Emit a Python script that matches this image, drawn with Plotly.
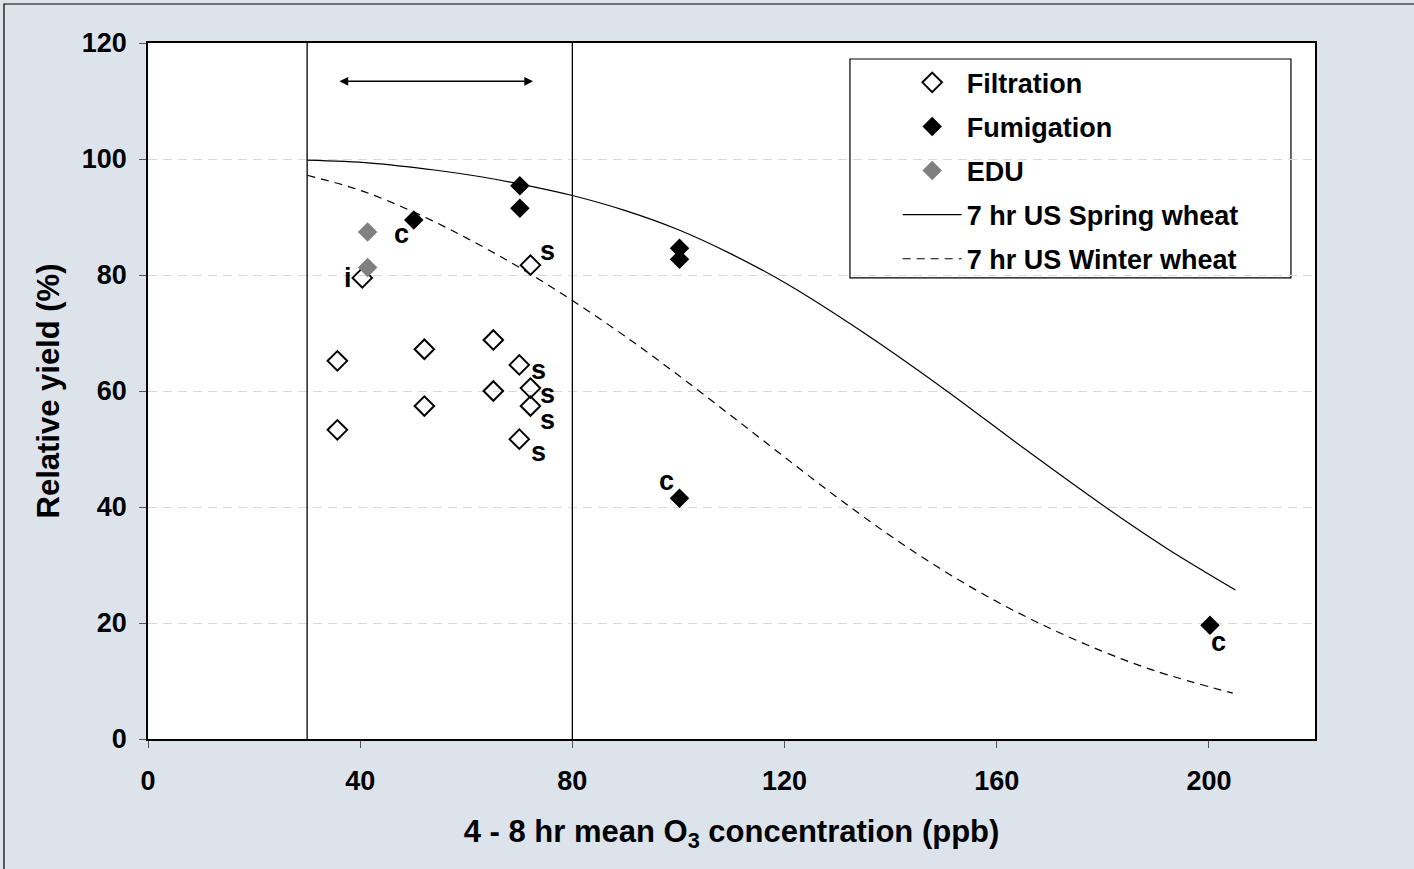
import plotly.graph_objects as go

FONT = "Liberation Sans, Arial, sans-serif"

# Relative yield (%) against 4-8 hr mean O3 concentration (ppb)
filt_x = [35.7, 35.7, 40.4, 52.1, 52.1, 65.1, 65.1, 70.0, 72.1, 72.1, 72.1, 70.0]
filt_y = [65.2, 53.3, 79.5, 67.2, 57.4, 68.8, 60.0, 64.5, 81.7, 60.5, 57.4, 51.7]
filt_lab = ["", "", "i", "", "", "", "", "s", "s", "s", "s", "s"]

fum_x = [50.1, 70.1, 70.1, 100.2, 100.2, 100.2, 200.2]
fum_y = [89.5, 95.4, 91.5, 84.6, 82.7, 41.5, 19.6]
fum_lab = ["c", "", "", "", "", "c", "c"]

edu_x = [41.4, 41.4]
edu_y = [87.4, 81.3]

# Dose-response curves (7 hr mean)
spring_x = [30, 42, 54, 63, 72.7, 80, 90, 100, 110, 120, 135, 150, 165, 180, 192, 205]
spring_y = [99.8, 99.3, 98.1, 96.9, 95.2, 93.7, 91.1, 87.8, 83.6, 78.7, 70.0, 60.4, 50.2, 40.3, 32.9, 25.7]

winter_x = [30, 40, 50, 60, 70, 80, 90, 100, 110, 120, 130, 140, 150, 160, 170, 180, 190, 204.5]
winter_y = [97.2, 94.6, 90.9, 86.4, 81.3, 75.6, 69.4, 62.7, 55.7, 48.6, 41.6, 35.0, 29.0, 23.7, 19.1, 15.1, 11.7, 7.9]

# Concentration range bounds and the range arrow
range_edges = [30, 80]
arrow_x = [35.8, 72.6]
arrow_y = 113.4

x_ticks = [0, 40, 80, 120, 160, 200]
y_ticks = [0, 20, 40, 60, 80, 100, 120]

# pixel offsets (dx right, dy down) of the point letters from their markers
filt_shift = {2: (-14, -2), 7: (19, 6), 8: (17, -13), 9: (17, 7), 10: (17, 15), 11: (19, 14)}
fum_shift = {0: (-12, 15), 5: (-13, -16), 6: (9, 18)}

fig = go.Figure()

fig.add_trace(go.Scatter(
    x=spring_x, y=spring_y, mode="lines", name="7 hr US Spring wheat",
    line=dict(color="black", width=1.2, shape="spline"),
    legendrank=4, legendgroup="g4"))
fig.add_trace(go.Scatter(
    x=winter_x, y=winter_y, mode="lines", name="7 hr US Winter wheat",
    line=dict(color="black", width=1.2, shape="spline", dash="8px,6px"),
    legendrank=5, legendgroup="g5"))

fig.add_trace(go.Scatter(
    x=filt_x, y=filt_y, mode="markers", name="Filtration",
    marker=dict(symbol="diamond-open", size=15, color="black", line=dict(width=2, color="black")),
    legendrank=1, legendgroup="g1"))
fig.add_trace(go.Scatter(
    x=edu_x, y=edu_y, mode="markers", name="EDU",
    marker=dict(symbol="diamond", size=15, color="#808080", line=dict(width=0)),
    legendrank=3, legendgroup="g3"))
fig.add_trace(go.Scatter(
    x=fum_x, y=fum_y, mode="markers", name="Fumigation",
    marker=dict(symbol="diamond", size=15, color="black", line=dict(width=0)),
    legendrank=2, legendgroup="g2"))

for x in range_edges:
    fig.add_shape(type="line", xref="x", yref="paper", x0=x, x1=x, y0=0, y1=1,
                  line=dict(color="black", width=1.3))

fig.add_annotation(x=arrow_x[1], y=arrow_y, ax=arrow_x[0], ay=arrow_y,
                   xref="x", yref="y", axref="x", ayref="y", text="",
                   showarrow=True, arrowhead=2, startarrowhead=2, arrowside="end+start",
                   arrowsize=1.1, startarrowsize=1.1, arrowwidth=1.6, arrowcolor="black",
                   standoff=0, startstandoff=0)

lab_font = dict(family=FONT, size=27, color="black", weight="bold")


def add_labels(xs, ys, labs, shifts):
    for i, (x, y, t) in enumerate(zip(xs, ys, labs)):
        if not t:
            continue
        dx, dy = shifts.get(i, (0, 0))
        fig.add_annotation(x=x, y=y, xref="x", yref="y", text=t, showarrow=False,
                           xshift=dx, yshift=-dy + (-2 if t == "i" else 1), font=lab_font)


add_labels(filt_x, filt_y, filt_lab, filt_shift)
add_labels(fum_x, fum_y, fum_lab, fum_shift)

# legend frame
fig.add_shape(type="rect", xref="paper", yref="paper",
              x0=0.6015, x1=0.9794, y0=0.6624, y1=0.977,
              line=dict(color="black", width=1.2), fillcolor="white", layer="below")

# outer chart border
fig.add_shape(type="rect", xref="paper", yref="paper",
              x0=-0.1234, x1=1.2, y0=-0.3, y1=1.056,
              line=dict(color="black", width=1.2), fillcolor="rgba(0,0,0,0)")

fig.update_layout(
    width=1414, height=869,
    margin=dict(l=148, r=99, t=43, b=130),
    paper_bgcolor="#DCE3EB", plot_bgcolor="white",
    font=dict(family=FONT, size=27, color="black", weight="bold"),
    showlegend=True,
    legend=dict(x=0.6424, y=0.978, xanchor="left", yanchor="top",
                bgcolor="rgba(0,0,0,0)", borderwidth=0, itemwidth=59,
                font=dict(family=FONT, size=27, color="black", weight="bold"),
                tracegroupgap=6),
    xaxis=dict(range=[0, 220], tickvals=x_ticks, ticks="outside", ticklen=7,
               tickcolor="#555", tickwidth=1, showline=True, mirror=True,
               linecolor="black", linewidth=1.6, showgrid=False, zeroline=False,
               ticklabelstandoff=10,
               title=dict(text="4 - 8 hr mean O<sub>3</sub> concentration (ppb)",
                          font=dict(family=FONT, size=31, color="black", weight="bold"),
                          standoff=25)),
    yaxis=dict(range=[0, 120], tickvals=y_ticks, ticks="outside", ticklen=7,
               tickcolor="#555", tickwidth=1, showline=True, mirror=True,
               linecolor="black", linewidth=1.6, showgrid=True, gridcolor="#D9D9D9",
               griddash="9px,6px", gridwidth=1, zeroline=False,
               ticklabelstandoff=7,
               title=dict(text="Relative yield (%)",
                          font=dict(family=FONT, size=31, color="black", weight="bold"),
                          standoff=13)),
)

fig.write_html("out.html")
